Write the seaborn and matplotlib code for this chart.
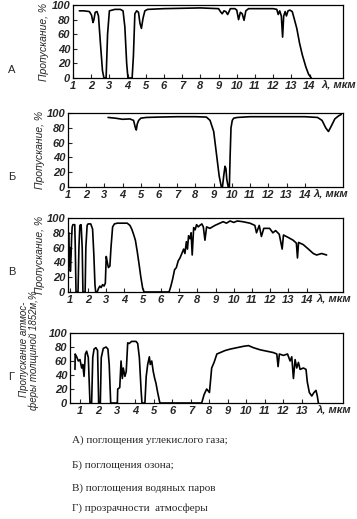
import matplotlib
matplotlib.use("Agg")
import matplotlib.pyplot as plt
import numpy as np
import pandas as pd
import seaborn as sns

# А) CO2
lam_a = [1.35, 1.6, 1.9, 2.02, 2.1, 2.15, 2.22, 2.32, 2.4, 2.5, 2.62, 2.7, 2.82, 2.9, 3.0, 3.3, 3.6,
         3.75, 3.85, 3.95, 4.02, 4.1, 4.25, 4.32, 4.4, 4.5, 4.6, 4.68, 4.76, 4.85, 4.95, 5.1, 6.0, 7.0,
         8.0, 9.0, 9.1, 9.2, 9.3, 9.4, 9.5, 9.65, 9.9, 10.0, 10.1, 10.2, 10.3, 10.4, 10.5, 10.65, 11.0,
         12.0, 12.2, 12.28, 12.36, 12.45, 12.52, 12.58, 12.66, 12.73, 12.82, 12.92, 13.05, 13.15, 13.3,
         13.45, 13.6, 13.8, 13.95, 14.1]
tr_a = [92, 92, 91, 86, 76, 80, 90, 91, 85, 50, 10, 0, 0, 60, 92, 94, 94,
        92, 70, 20, 0, 0, 0, 30, 88, 92, 90, 75, 68, 82, 92, 94, 95, 95.5,
        96, 95, 91, 88, 92, 91, 87, 95, 95, 93, 80, 90, 88, 79, 92, 95, 95,
        95, 94, 87, 92, 85, 56, 85, 91, 85, 92, 93, 91, 82, 68,
        48, 32, 15, 5, 0]

# Б) O3
lam_b = [3.2, 3.6, 4.0, 4.4, 4.6, 4.7, 4.75, 4.8, 4.88, 5.0, 5.3, 6.0, 7.0, 8.0, 8.6, 8.8, 9.0, 9.15,
         9.3, 9.42, 9.48, 9.55, 9.62, 9.67, 9.72, 9.8, 9.86, 9.9, 9.95, 10.02, 10.1, 10.3, 11.0, 12.0,
         13.0, 14.0, 14.7, 14.95, 15.15, 15.3, 15.45, 15.65, 15.85, 16.0]
tr_b = [94, 93, 91.5, 92, 90, 80, 77, 85, 90, 93, 94, 94.5, 95, 95, 94.5, 90, 75, 45,
        15, 0, 0, 15, 28, 25, 10, 0, 0, 40, 80, 90, 93, 94, 95, 95,
        95, 95, 94, 90, 80, 75, 82, 92, 96, 98]

# В) H2O
lam_c = [0.95, 0.97, 1.0, 1.03, 1.07, 1.1, 1.13, 1.17, 1.27, 1.3, 1.34, 1.45, 1.5, 1.55, 1.62, 1.68,
         1.72, 1.84, 1.88, 1.95, 2.0, 2.15, 2.25, 2.32, 2.38, 2.42, 2.5, 2.58, 2.65, 2.72, 2.8, 2.88,
         2.95, 3.0, 3.06, 3.12, 3.2, 3.26, 3.35, 3.45, 3.6, 3.9, 4.15, 4.3, 4.4, 4.5, 4.6, 4.7, 4.8,
         4.9, 5.0, 5.08, 6.45, 6.55, 6.65, 6.75, 6.85, 6.95, 7.05, 7.15, 7.25, 7.32, 7.4, 7.46, 7.52,
         7.6, 7.66, 7.72, 7.8, 7.88, 7.96, 8.05, 8.14, 8.25, 8.33, 8.42, 8.51, 8.69, 8.97, 9.24, 9.42,
         9.6, 9.8, 10.0, 10.2, 10.5, 10.89, 11.16, 11.25, 11.4, 11.52, 11.65, 11.97, 12.15, 12.3,
         12.5, 12.66, 12.73, 12.97, 13.26, 13.44, 13.5, 13.56, 13.82, 14.1, 14.37, 14.55, 14.83, 15.1]
tr_c = [80, 35, 60, 28, 50, 75, 88, 91, 91, 60, 0, 0, 60, 90, 91, 60,
        0, 0, 60, 90, 92, 92, 85, 50, 10, 0, 0, 5, 8, 6, 10, 8,
        12, 48, 40, 33, 35, 60, 88, 92, 93, 93, 93, 90, 85, 78, 70, 55, 38,
        20, 5, 0, 0, 8, 18, 30, 33, 42, 46, 52, 58, 52, 68, 58, 76,
        72, 80, 50, 87, 84, 91, 88, 90, 92, 88, 70, 88, 86, 90, 93, 95,
        93, 96, 94, 96, 95, 93, 90, 80, 90, 75, 86, 86, 80, 83,
        78, 58, 77, 74, 70, 66, 46, 67, 64, 58, 52, 50, 52, 50]

# Г) atmosphere 1852 m
lam_d = [0.73, 0.74, 0.82, 0.91, 1.0, 1.09, 1.15, 1.22, 1.29, 1.36, 1.45, 1.54, 1.63, 1.69, 1.76,
         1.86, 1.95, 2.01, 2.1, 2.15, 2.26, 2.41, 2.51, 2.58, 2.66, 3.02, 3.04, 3.15, 3.22, 3.29,
         3.34, 3.43, 3.5, 3.58, 3.66, 3.79, 4.03, 4.12, 4.21, 4.3, 4.35, 4.51, 4.58, 4.66, 4.75, 4.8,
         4.88, 4.96, 5.04, 5.11, 5.2, 5.32, 7.58, 7.71, 7.85, 8.0, 8.12, 8.25, 8.4, 8.58, 8.85, 9.12,
         9.48, 9.84, 10.11, 10.38, 10.74, 11.1, 11.46, 11.64, 11.71, 11.78, 12.0, 12.22, 12.36,
         12.45, 12.54, 12.63, 12.72, 12.81, 12.9, 13.08, 13.22, 13.29, 13.4, 13.53, 13.65, 13.76,
         13.83, 13.89]
tr_d = [48, 70, 66, 60, 62, 50, 55, 38, 70, 74, 65, 0, 0, 65, 77,
        79, 75, 0, 0, 65, 78, 80, 77, 55, 0, 0, 20, 22, 60, 35,
        50, 38, 45, 86, 85, 88, 88, 85, 65, 20, 0, 0, 38, 55, 66, 55,
        60, 45, 35, 28, 15, 0, 0, 12, 20, 15, 50, 58, 70, 72, 75, 77,
        79, 81, 82, 79, 76, 74, 72, 70, 52, 70, 68, 70, 60,
        66, 35, 62, 50, 58, 48, 50, 48, 30, 15, 10, 15, 18,
        10, 0]

y_ticks = [0, 20, 40, 60, 80, 100]
y_label = "Пропускание, %"
y_label_d = "Пропускание атмос-\nферы толщиной 1852м,%"
x_unit = "λ, мкм"
letters = ["А", "Б", "В", "Г"]
captions = ["А) поглощения углекислого газа;",
            "Б) поглощения озона;",
            "В) поглощения водяных паров",
            "Г) прозрачности  атмосферы"]

SANS = "Liberation Sans"
TICK_FS = 8


def panel(fig, rect, lam, tr, xlim, xticks, lam_label_x, ylabel, label_xy, label_fs):
    ax = fig.add_axes(rect)
    df = pd.DataFrame({"lam": lam, "tr": tr})
    sns.lineplot(data=df, x="lam", y="tr", sort=False, estimator=None,
                 color="black", lw=1.2, ax=ax)
    ax.set_xlim(*xlim)
    ax.set_ylim(0, 100)
    ax.set_xticks(xticks)
    ax.set_xticklabels([str(t) for t in xticks])
    ax.set_yticks(y_ticks)
    ax.tick_params(direction="in", length=3, width=0.8, pad=2)
    for lab in ax.get_xticklabels() + ax.get_yticklabels():
        lab.set_fontfamily(SANS)
        lab.set_fontsize(TICK_FS)
        lab.set_fontstyle("italic")
        lab.set_fontweight("bold")
    ax.set_xlabel("")
    ax.set_ylabel(ylabel, fontsize=label_fs, fontstyle="italic", family=SANS,
                  linespacing=0.95)
    ax.yaxis.set_label_coords(*label_xy)
    ax.annotate(x_unit, xy=(lam_label_x, 0), xycoords=("data", "axes fraction"),
                xytext=(0, -2), textcoords="offset points", ha="left", va="top",
                fontsize=TICK_FS, fontstyle="italic", fontweight="bold",
                family=[SANS, "DejaVu Sans"], annotation_clip=False)
    for s in ax.spines.values():
        s.set_linewidth(0.9)
        s.set_color("black")
    return ax


def main():
    sns.set_style("ticks")
    plt.rcParams['font.family'] = ['DejaVu Sans']
    W, H = 357, 519
    fig = plt.figure(figsize=(W / 100, H / 100), dpi=100)

    def rect(l, r, t, b):
        return [l / W, 1 - b / H, (r - l) / W, (b - t) / H]

    panel(fig, rect(73, 343, 5, 78), lam_a, tr_a, (1.0, 15.84), list(range(1, 15)), 14.68,
          y_label, (-0.09, 0.5), 7.5)
    panel(fig, rect(68, 343, 113, 187), lam_b, tr_b, (1.0, 16.1), list(range(1, 15)), 14.46,
          y_label, (-0.085, 0.5), 7.5)
    panel(fig, rect(68, 343, 218, 292), lam_c, tr_c, (0.9, 16.0), list(range(1, 15)), 14.56,
          y_label, (-0.085, 0.5), 7.5)
    panel(fig, rect(70, 343, 333, 403), lam_d, tr_d, (0.46, 15.22), list(range(1, 14)), 13.8,
          y_label_d, (-0.115, 0.76), 7.0)

    for letter, yp in zip(letters, [70, 177, 272, 377]):
        fig.text(8 / W, 1 - yp / H, letter, fontsize=8, family=SANS,
                 ha="left", va="center")
    for cap, yp in zip(captions, [440, 465, 488, 508]):
        fig.text(72 / W, 1 - yp / H, cap, fontsize=8, family="Liberation Serif",
                 ha="left", va="center")

    fig.savefig("out.png", dpi=100)


if __name__ == "__main__":
    main()
